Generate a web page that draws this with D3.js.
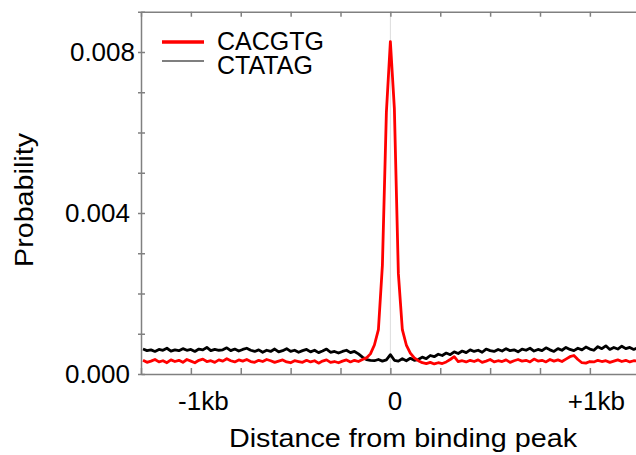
<!DOCTYPE html>
<meta charset="utf-8">
<style>
	body {
		margin: 0;
		background: #fff;
	}

	text {
		font-family: "Liberation Sans", Arial, sans-serif;
		fill: #000;
	}

	.axis path,
	.axis line {
		fill: none;
		stroke: #808080;
		stroke-width: 1.5;
	}
</style>

<body>
	<script src="https://d3js.org/d3.v7.min.js"></script>
	<script>
		// positions (bp from peak), 20bp bins
		var positions = d3.range(-1240, 1241, 20);

		// probabilities, in units of 1e-4
		var cacgtg = [
			3.4, 2.9, 3.2, 3.6, 3.0, 3.3, 2.8, 3.5, 3.1, 3.4,
			2.9, 3.6, 3.2, 2.8, 3.4, 3.7, 3.1, 3.3, 2.9, 3.5,
			3.2, 3.8, 3.3, 3.0, 3.5, 3.2, 3.6, 3.1, 2.9, 3.4,
			3.1, 3.6, 3.3, 2.9, 3.2, 3.5, 3.0, 2.8, 3.3, 3.1,
			2.9, 3.4, 3.0, 3.3, 2.7, 3.2, 3.5, 2.9, 3.1, 2.8,
			3.2, 3.5, 3.0, 3.4, 3.1, 3.6, 4.0, 5.0, 7.2, 11.0,
			27.0, 65.0, 82.6, 66.0, 25.0, 11.0, 7.2, 5.2, 4.0, 3.3,
			2.8, 2.6, 2.9, 2.5, 2.8, 2.6, 3.0, 3.6, 4.3, 3.1,
			3.3, 3.0, 3.4, 3.1, 3.5, 2.9, 3.2, 3.6, 3.0, 3.3,
			3.1, 3.5, 2.9, 3.3, 3.6, 3.2, 3.4, 3.0, 3.7, 3.2,
			3.4, 3.0, 3.6, 3.2, 3.5, 3.1, 3.7, 4.3, 4.6, 3.6,
			2.8, 2.7, 3.1, 3.0, 3.4, 3.1, 3.3, 2.9, 3.2, 3.5,
			3.1, 3.4, 3.0, 3.3, 3.2
		];

		var ctatag = [
			6.2, 5.8, 6.0, 5.6, 6.1, 5.9, 6.4, 5.7, 6.0, 5.8,
			6.3, 5.9, 6.1, 5.6, 6.2, 6.0, 6.6, 5.8, 6.1, 5.9,
			6.0, 6.5, 5.8, 6.2, 5.7, 6.1, 6.4, 5.9, 5.6, 6.0,
			5.4, 5.9, 5.6, 6.2, 5.5, 5.8, 6.3, 5.6, 5.9, 5.4,
			5.8, 6.1, 5.5, 5.9, 5.3, 5.7, 6.2, 5.4, 5.6, 5.2,
			5.6, 5.9, 5.3, 5.6, 5.0, 4.2, 3.6, 3.4, 3.3, 3.6,
			3.2, 3.5, 4.8, 3.4, 3.2, 3.8, 3.3, 3.9, 3.4, 3.6,
			4.2, 3.8, 4.6, 4.3, 4.9, 4.6, 5.2, 4.8, 5.5, 5.1,
			5.7, 5.3, 6.0, 5.6, 5.9, 5.4, 6.2, 5.8, 5.6, 6.1,
			5.7, 6.3, 5.8, 6.0, 5.5, 6.2, 5.9, 6.4, 5.7, 6.1,
			5.8, 6.5, 6.0, 5.6, 6.3, 5.9, 6.6, 6.1, 5.8, 6.4,
			6.0, 6.7, 6.2, 5.9, 6.8, 6.3, 7.0, 6.1, 6.6, 6.2,
			6.9, 6.3, 6.6, 6.1, 6.5
		];

		var seriesNames = ["CACGTG", "CTATAG"];
		var xTickLabels = {"-1000": "-1kb", "0": "0", "1000": "+1kb"};
		var yTickLabels = [0, 0.004, 0.008];

		var width = 636,
			height = 455;

		var svg = d3.select("body").append("svg")
			.attr("width", width)
			.attr("height", height);

		var x = d3.scaleLinear()
			.domain([-1250, 1250])
			.range([141, 639.75]);

		var y = d3.scaleLinear()
			.domain([0, 0.009])
			.range([374, 11.75]);

		var xTicks = d3.range(-1250, 1251, 250);

		// faint line at the peak
		svg.append("line")
			.attr("x1", x(0)).attr("x2", x(0))
			.attr("y1", y(0.009)).attr("y2", y(0))
			.attr("stroke", "#dcdcdc")
			.attr("stroke-width", 1);

		var series = [
			{name: seriesNames[0], values: cacgtg, color: "#ff0000"},
			{name: seriesNames[1], values: ctatag, color: "#000000"}
		];

		var line = d3.line()
			.x(function(d) { return x(d[0]); })
			.y(function(d) { return y(d[1]); });

		// black drawn first so the red sits on top near the peak
		series.slice().reverse().forEach(function(s) {
			svg.append("path")
				.datum(positions.map(function(p, i) { return [p, s.values[i] / 10000]; }))
				.attr("fill", "none")
				.attr("stroke", s.color)
				.attr("stroke-width", 2.8)
				.attr("stroke-linejoin", "round")
				.attr("d", line);
		});

		// bottom axis, ticks pointing in
		var xAxis = svg.append("g")
			.attr("class", "axis")
			.attr("transform", "translate(0," + y(0) + ")")
			.call(d3.axisBottom(x).tickValues(xTicks).tickSizeInner(-6).tickSizeOuter(0).tickFormat(function(d) {
				return xTickLabels[d] || "";
			}));
		xAxis.selectAll("text")
			.style("font-size", "26px")
			.style("font-family", "Liberation Sans, Arial, sans-serif")
			.attr("y", 36)
			.attr("dy", 0)
			.attr("dx", function(d) { return d < 0 ? 12 : d > 0 ? 6 : 4; });

		// top axis
		svg.append("g")
			.attr("class", "axis")
			.attr("transform", "translate(0," + y(0.009) + ")")
			.call(d3.axisTop(x).tickValues(xTicks).tickSizeInner(-5).tickSizeOuter(0).tickFormat(""));

		// left axis, ticks cross the line
		var yAxis = svg.append("g")
			.attr("class", "axis")
			.attr("transform", "translate(" + x(-1250) + ",0)")
			.call(d3.axisLeft(y).tickValues(d3.range(0, 0.0091, 0.001)).tickSizeInner(3).tickSizeOuter(0).tickFormat(function(d) {
				return yTickLabels.some(function(v) { return Math.abs(v - d) < 1e-9; }) ? d.toFixed(3) : "";
			}));
		yAxis.selectAll(".tick line")
			.attr("x1", 4);
		yAxis.selectAll("text")
			.style("font-size", "26px")
			.style("font-family", "Liberation Sans, Arial, sans-serif")
			.attr("x", function(d) { return Math.abs(d - 0.008) < 1e-9 ? -6 : -11; });

		// axis titles
		svg.append("text")
			.attr("x", 403)
			.attr("y", 447)
			.attr("text-anchor", "middle")
			.attr("textLength", 348)
			.attr("lengthAdjust", "spacingAndGlyphs")
			.style("font-size", "26px")
			.text("Distance from binding peak");

		svg.append("text")
			.attr("transform", "translate(33,200) rotate(-90)")
			.attr("text-anchor", "middle")
			.attr("textLength", 134)
			.attr("lengthAdjust", "spacingAndGlyphs")
			.style("font-size", "26px")
			.text("Probability");

		// legend
		var legend = svg.selectAll(".legend")
			.data(series)
			.enter().append("g")
			.attr("class", "legend")
			.attr("transform", function(d, i) {
				return "translate(162," + (42 + i * 19) + ")";
			});

		legend.append("line")
			.attr("x1", 0).attr("x2", 42)
			.attr("stroke", function(d) { return d.color; })
			.attr("stroke-width", function(d, i) { return i === 0 ? 3.5 : 1.2; });

		legend.append("text")
			.attr("x", 55)
			.attr("y", function(d, i) { return i === 0 ? 7.5 : 13; })
			.style("font-size", "25px")
			.text(function(d) { return d.name; });
	</script>
</body>
